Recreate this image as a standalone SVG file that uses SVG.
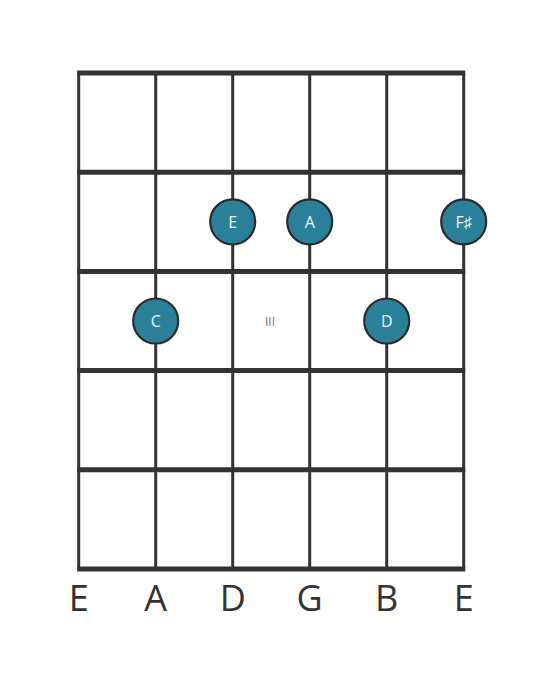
<svg xmlns="http://www.w3.org/2000/svg" width="559" height="682" viewBox="0 0 559 682">
<style>
.fret{stroke:#333;stroke-width:5;stroke-linecap:butt}
.str{stroke:#333;stroke-width:3}
.dot{fill:#2a8099;stroke:#2b2b2b;stroke-width:2.2}
.nt{font-family:"Open Sans","Noto Sans",sans-serif;font-size:16px;fill:#e8f6fa;text-anchor:middle;dominant-baseline:central}
.lbl{font-family:"Open Sans","Noto Sans",sans-serif;font-size:36px;fill:#333;text-anchor:middle}
.pos{font-family:"Open Sans","Noto Sans",sans-serif;font-size:12px;fill:#777;text-anchor:middle;dominant-baseline:central}
</style>
<rect width="559" height="682" fill="#fff"/>
<g id="connectors">
<line class="str" x1="78.7" y1="73" x2="78.7" y2="569"/>
<line class="str" x1="155.7" y1="73" x2="155.7" y2="569"/>
<line class="str" x1="232.7" y1="73" x2="232.7" y2="569"/>
<line class="str" x1="309.7" y1="73" x2="309.7" y2="569"/>
<line class="str" x1="386.7" y1="73" x2="386.7" y2="569"/>
<line class="str" x1="463.7" y1="73" x2="463.7" y2="569"/>
<line class="fret" x1="77.2" y1="73" x2="465.2" y2="73"/>
<line class="fret" x1="77.2" y1="172.2" x2="465.2" y2="172.2"/>
<line class="fret" x1="77.2" y1="271.4" x2="465.2" y2="271.4"/>
<line class="fret" x1="77.2" y1="370.6" x2="465.2" y2="370.6"/>
<line class="fret" x1="77.2" y1="469.8" x2="465.2" y2="469.8"/>
<line class="fret" x1="77.2" y1="569" x2="465.2" y2="569"/>
</g>
<text class="pos" x="270" y="321">III</text>
<g id="note-E"><circle class="dot" cx="232.7" cy="221.8" r="22.5"/><text class="nt" x="232.7" y="221.8">E</text></g>
<g id="note-A"><circle class="dot" cx="309.7" cy="221.8" r="22.5"/><text class="nt" x="309.7" y="221.8">A</text></g>
<g id="note-Fs"><circle class="dot" cx="463.7" cy="221.8" r="22.5"/><text class="nt" x="463.7" y="221.8">F♯</text></g>
<g id="note-C"><circle class="dot" cx="155.7" cy="321" r="22.5"/><text class="nt" x="155.7" y="321">C</text></g>
<g id="note-D"><circle class="dot" cx="386.7" cy="321" r="22.5"/><text class="nt" x="386.7" y="321">D</text></g>
<g id="labels">
<text class="lbl" x="78.7" y="611">E</text>
<text class="lbl" x="155.7" y="611">A</text>
<text class="lbl" x="232.7" y="611">D</text>
<text class="lbl" x="309.7" y="611">G</text>
<text class="lbl" x="386.7" y="611">B</text>
<text class="lbl" x="463.7" y="611">E</text>
</g>
</svg>
